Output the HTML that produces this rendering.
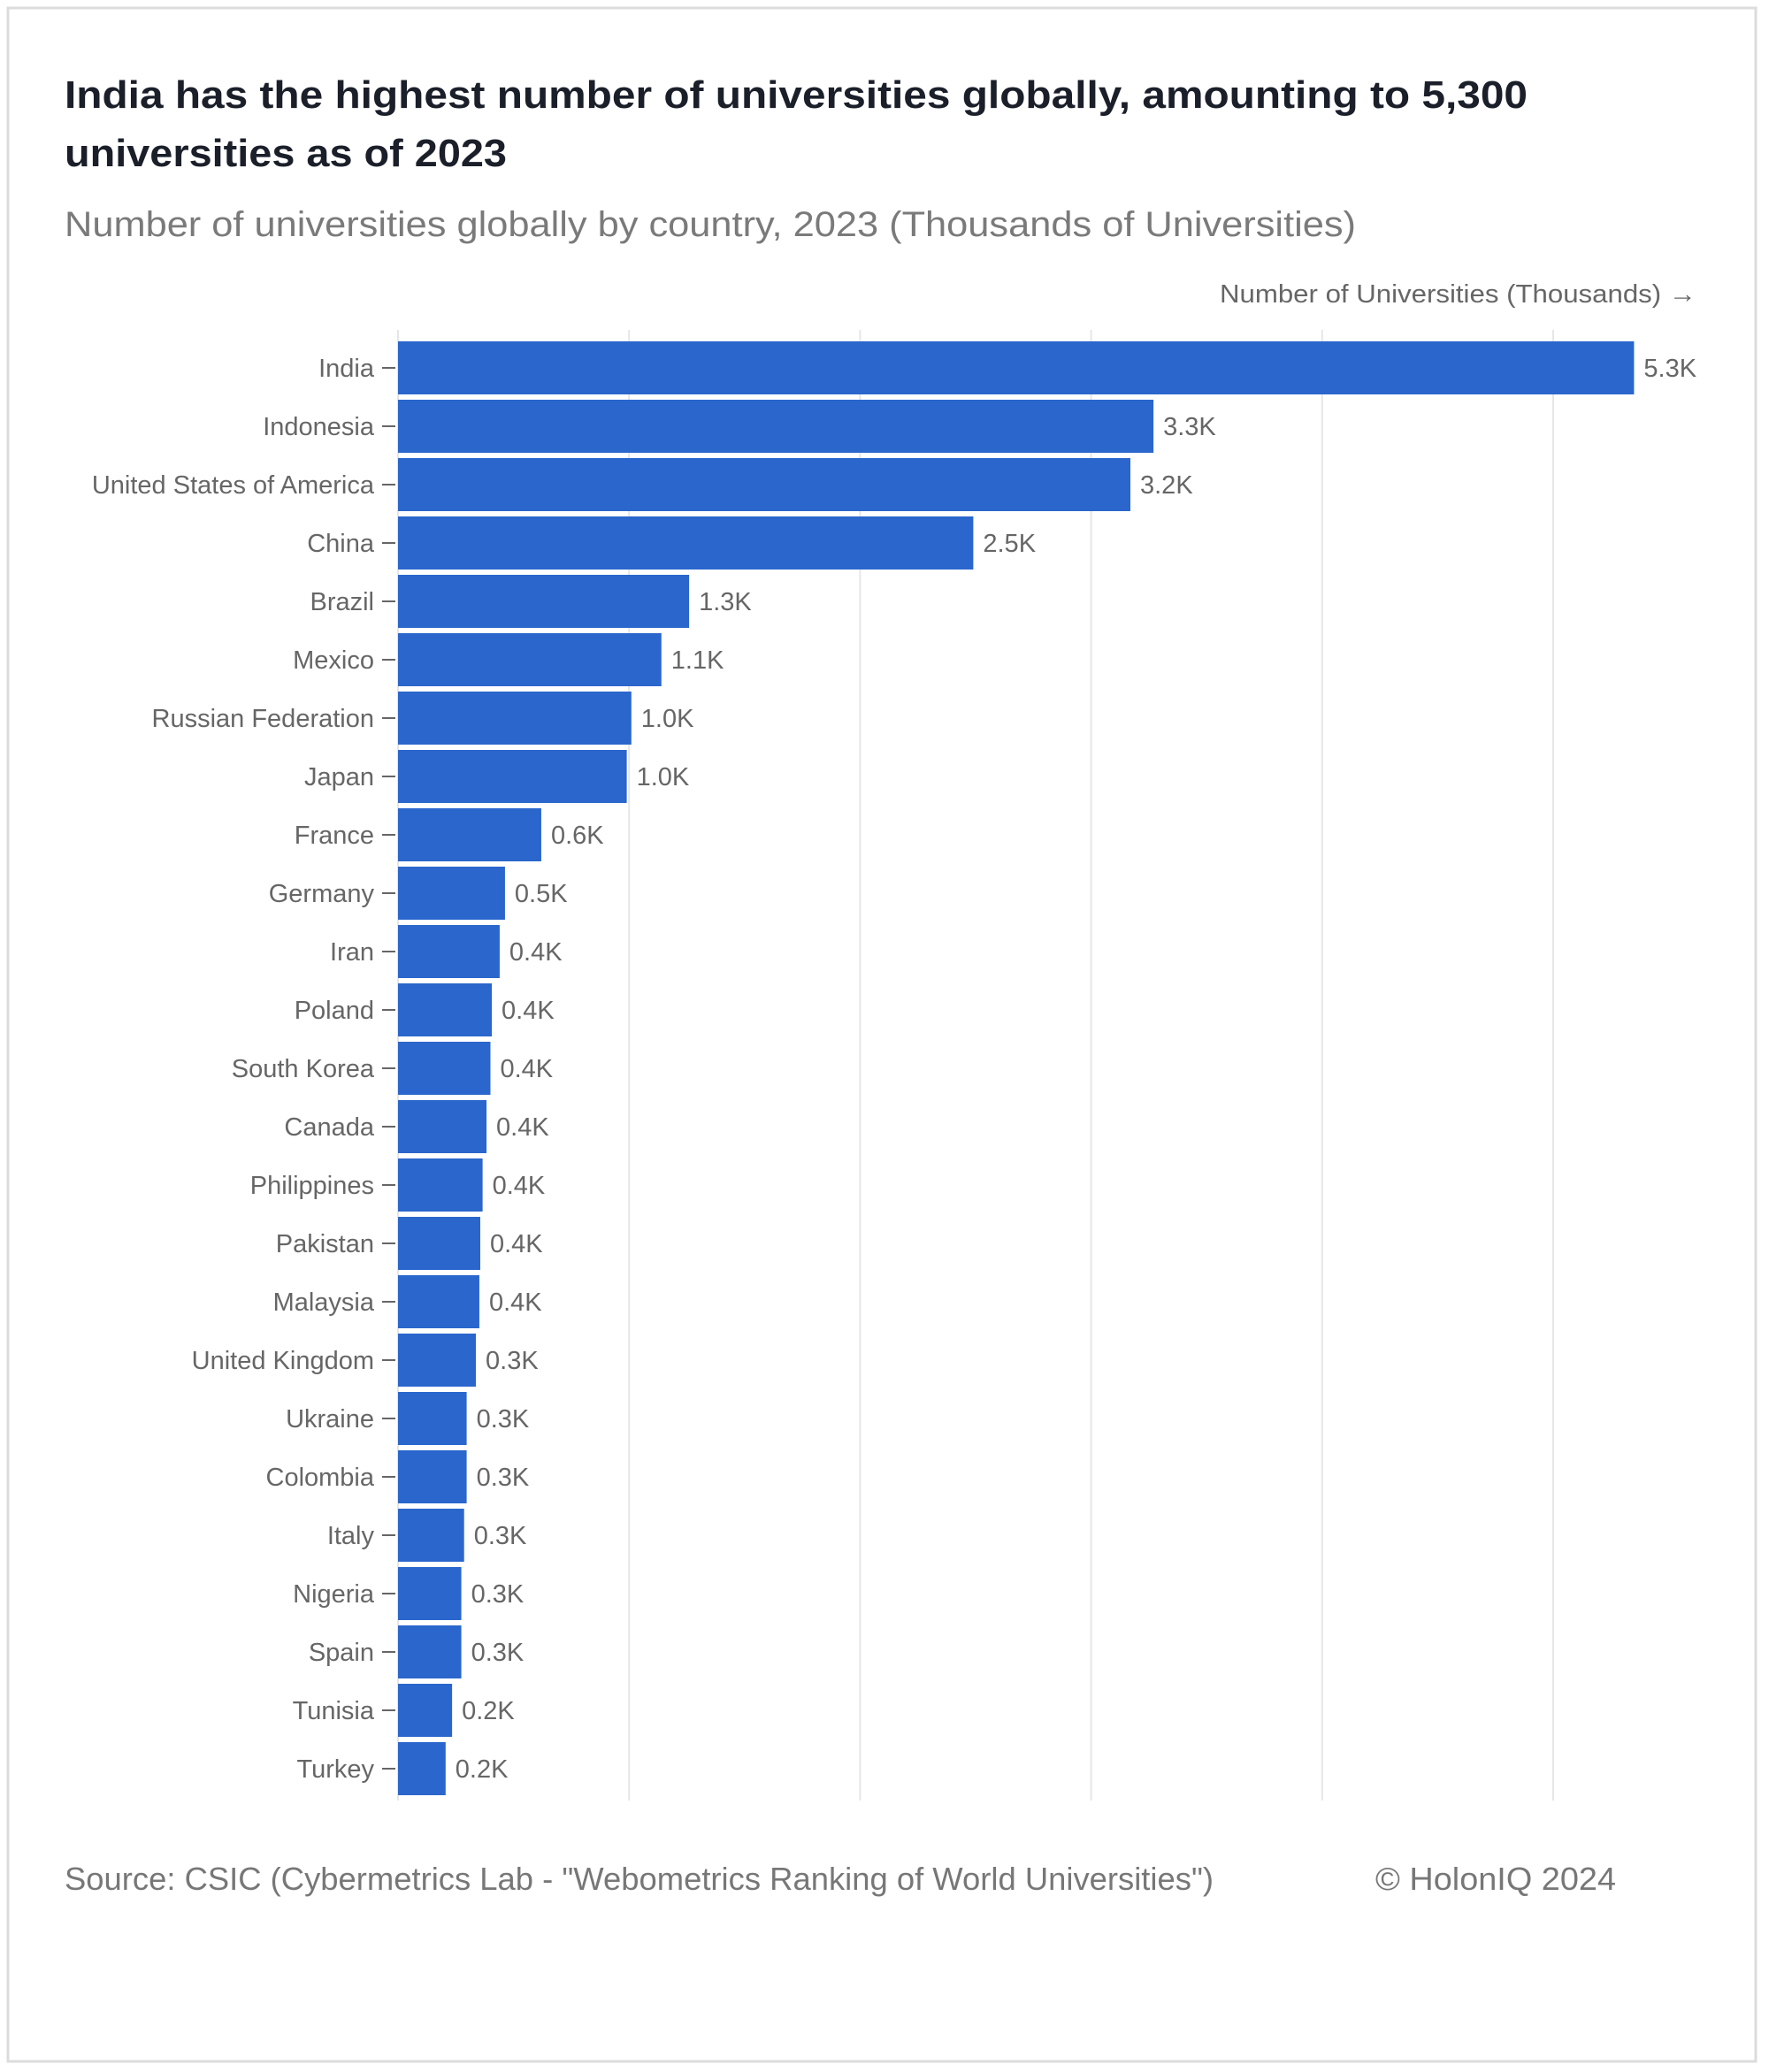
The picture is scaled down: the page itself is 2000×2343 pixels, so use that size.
<!DOCTYPE html>
<html><head><meta charset="utf-8"><style>
html,body{margin:0;padding:0;background:#fff;}
svg{display:block;font-family:"Liberation Sans",sans-serif;}
</style></head><body>
<svg id="chart" width="2000" height="2343" viewBox="0 0 2000 2343" xmlns="http://www.w3.org/2000/svg">
<rect x="9" y="9" width="1976" height="2322" fill="#fff" stroke="#dcdcdc" stroke-width="3"/>
<text x="73" y="122" font-size="44" font-weight="bold" fill="#1b1f2a" textLength="1654" lengthAdjust="spacingAndGlyphs">India has the highest number of universities globally, amounting to 5,300</text>
<text x="73" y="188" font-size="44" font-weight="bold" fill="#1b1f2a" textLength="500" lengthAdjust="spacingAndGlyphs">universities as of 2023</text>
<text x="73" y="267" font-size="40" fill="#7a7a7a" textLength="1460" lengthAdjust="spacingAndGlyphs">Number of universities globally by country, 2023 (Thousands of Universities)</text>
<text x="1918" y="342" font-size="29" fill="#666" text-anchor="end" textLength="539" lengthAdjust="spacingAndGlyphs">Number of Universities (Thousands) →</text>
<g id="grid"></g>
<g id="bars"></g>
<text x="73" y="2137" font-size="36" fill="#777" textLength="1299" lengthAdjust="spacingAndGlyphs">Source: CSIC (Cybermetrics Lab - "Webometrics Ranking of World Universities")</text>
<text x="1555" y="2137" font-size="36" fill="#777" textLength="272" lengthAdjust="spacingAndGlyphs">© HolonIQ 2024</text>
</svg>
<script>
const countries = ["India","Indonesia","United States of America","China","Brazil","Mexico","Russian Federation","Japan","France","Germany","Iran","Poland","South Korea","Canada","Philippines","Pakistan","Malaysia","United Kingdom","Ukraine","Colombia","Italy","Nigeria","Spain","Tunisia","Turkey"];
const values = [5.35,3.27,3.17,2.49,1.26,1.14,1.01,0.99,0.62,0.463,0.44,0.406,0.4,0.383,0.366,0.356,0.352,0.337,0.297,0.297,0.286,0.274,0.274,0.234,0.206];
const xTicks = [0,1,2,3,4,5];

const NS = "http://www.w3.org/2000/svg";
const x0 = 450, perK = 261.2, plotTop = 373, plotBottom = 2036, firstTop = 386, pitch = 66, barH = 60;
const xScale = v => x0 + v * perK;
const yScale = i => firstTop + i * pitch;
function mk(tag, attrs){const e=document.createElementNS(NS,tag);for(const k in attrs)e.setAttribute(k,attrs[k]);return e;}
const grid = document.getElementById('grid');
xTicks.forEach(t=>{
  const l = mk('line',{x1:xScale(t),x2:xScale(t),y1:plotTop,y2:plotBottom,stroke:'#e6e6e6','stroke-width':2});
  
  
  grid.appendChild(l);
});
const bars = document.getElementById('bars');
countries.forEach((c,i)=>{
  const y = yScale(i), v = values[i];
  const r = mk('rect',{x:x0,y:y,width:xScale(v)-x0,height:barH,fill:'#2a66cc'});
  
  
  bars.appendChild(r);
  const tk = mk('line',{x1:432,x2:447,y1:y+barH/2,y2:y+barH/2,stroke:'#666','stroke-width':2});
  
  
  bars.appendChild(tk);
  const lab = mk('text',{x:423,y:y+barH/2+10,'font-size':29,fill:'#666','text-anchor':'end'});
  lab.textContent = c;
  
  
  bars.appendChild(lab);
  const vl = mk('text',{x:xScale(v)+11,y:y+barH/2+10,'font-size':29,fill:'#666'});
  vl.textContent = v.toFixed(1)+'K';
  
  
  bars.appendChild(vl);
});
</script>
</body></html>
